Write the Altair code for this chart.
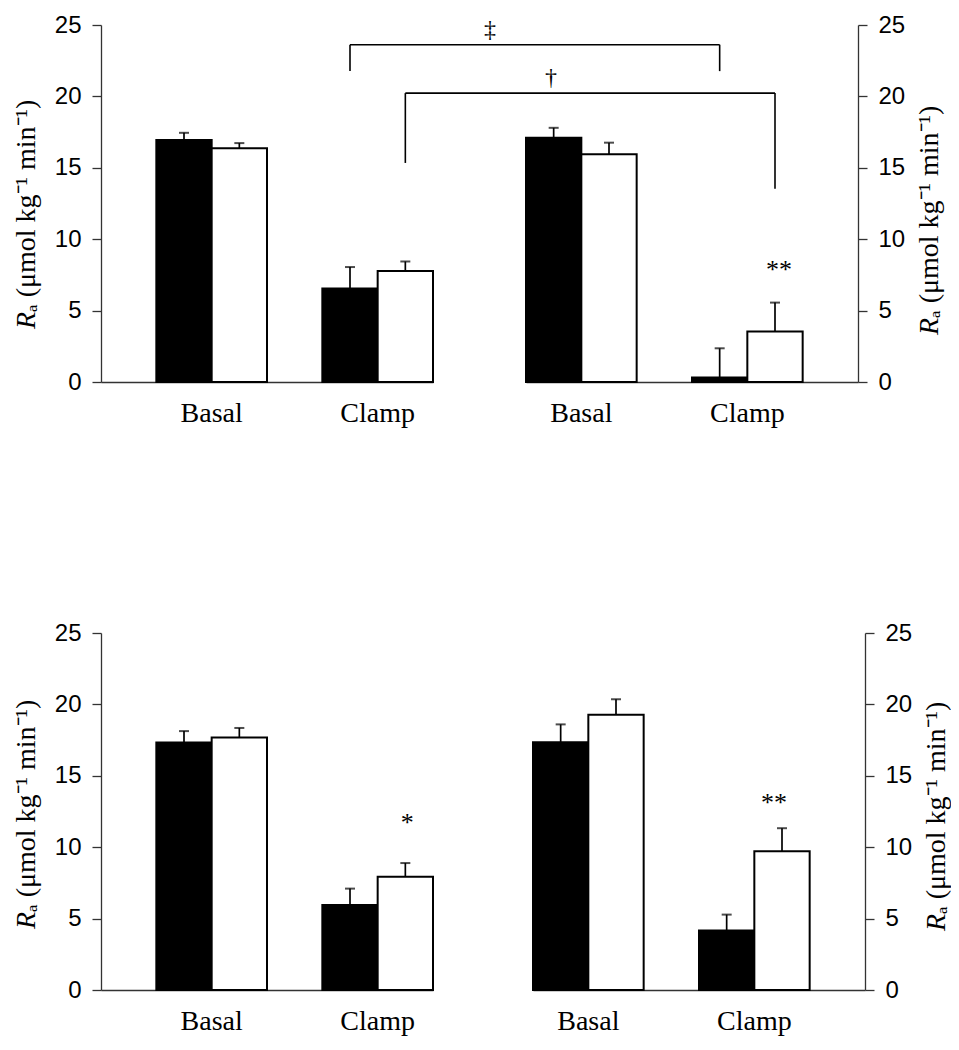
import altair as alt
import pandas as pd

# ---------------- data ----------------
groups = ["Basal", "Clamp"]
series = ["S1", "S2"]          # S1 = filled bar, S2 = open bar

# values in order: Basal S1, Basal S2, Clamp S1, Clamp S2
tl_mean = [16.94, 16.37, 6.54, 7.78]
tl_err = [0.51, 0.36, 1.51, 0.66]
tr_mean = [17.10, 15.95, 0.32, 3.54]
tr_err = [0.70, 0.81, 2.04, 2.02]
bl_mean = [17.33, 17.69, 5.96, 7.93]
bl_err = [0.80, 0.66, 1.14, 0.96]
br_mean = [17.35, 19.27, 4.17, 9.71]
br_err = [1.25, 1.09, 1.11, 1.62]

# significance marks above the open Clamp bar: (label, y value)
tr_star = ("**", 7.85)
bl_star = ("*", 11.7)
br_star = ("**", 13.1)

# brackets joining the two upper panels
bracket_labels = ["\u2021", "\u2020"]
bracket_series = ["S1", "S2"]
bracket_top = [23.62, 20.23]
bracket_left_end = [21.77, 15.34]
bracket_right_end = [21.77, 13.53]

y_ticks = [0, 5, 10, 15, 20, 25]
y_title_rest = "\u2090 (\u03bcmol kg\u207b\u00b9 min\u207b\u00b9)"

# ---------------- layout constants ----------------
W = 332
H = 357
GAP_TOP = 93
GAP_BOTTOM = 100
ROW_GAP = 194
AX = "#333333"
SERIF = "Liberation Serif"
SANS = "Liberation Sans"


def band_pos(s):
    return 0.25 if s == "S1" else 0.75


def panel(mean, err, side, title_y, extra=None):
    df = pd.DataFrame({
        "group": [g for g in groups for _ in series],
        "series": [s for _ in groups for s in series],
        "mean": mean,
        "err": err,
    })
    df["upper"] = df["mean"] + df["err"]

    xscale = alt.Scale(domain=groups, paddingInner=1 / 3, paddingOuter=1 / 6,
                       align=1 if side == "left" else 0)
    xaxis = alt.Axis(title=None, labelAngle=0, ticks=False, tickSize=0,
                     labelFont=SERIF, labelFontSize=28, labelColor="black",
                     labelPadding=17, domainColor=AX, domainWidth=1.3, grid=False)
    x = alt.X("group:N", sort=groups, scale=xscale, axis=xaxis)
    xo = alt.XOffset("series:N", sort=series,
                     scale=alt.Scale(domain=series, paddingInner=0, paddingOuter=0))
    yscale = alt.Scale(domain=[0, 25], nice=False, zero=True)
    yaxis = alt.Axis(orient=side, values=y_ticks, title=None, grid=False,
                     labelFont=SANS, labelFontSize=24, labelColor="black",
                     labelPadding=11, tickSize=9, tickColor=AX, tickWidth=1.3,
                     domainColor=AX, domainWidth=1.3)

    base = alt.Chart(df)
    errs = base.mark_rule(color="black", strokeWidth=1.7).encode(
        x=x, xOffset=xo, y=alt.Y("mean:Q", scale=yscale, axis=yaxis), y2="upper:Q")
    caps = base.mark_tick(color="black", thickness=2, size=10).encode(
        x=x, xOffset=xo, y=alt.Y("upper:Q", scale=yscale, axis=yaxis))
    bars = base.mark_bar(stroke="black", strokeWidth=2).encode(
        x=x, xOffset=xo,
        y=alt.Y("mean:Q", scale=yscale, axis=yaxis),
        fill=alt.Fill("series:N", scale=alt.Scale(domain=series, range=["black", "white"]),
                      legend=None),
    )

    tx = -66 if side == "left" else W + 80
    one = pd.DataFrame({"k": [0]})
    t_r = alt.Chart(one).mark_text(text="R", font=SERIF, fontStyle="italic", fontSize=28,
                                   angle=270, align="right", baseline="alphabetic",
                                   color="black").encode(x=alt.value(tx), y=alt.value(title_y))
    t_rest = alt.Chart(one).mark_text(text=y_title_rest, font=SERIF, fontSize=28,
                                      angle=270, align="left", baseline="alphabetic",
                                      color="black").encode(x=alt.value(tx), y=alt.value(title_y))

    layers = [errs, caps, bars, t_r, t_rest]
    if extra:
        layers += extra(xscale, xaxis, yscale, yaxis)
    return alt.layer(*layers).properties(width=W, height=H)


def star_layer(star, dx=0):
    def f(xscale, xaxis, yscale, yaxis):
        d = pd.DataFrame({"group": ["Clamp"], "label": [star[0]], "y": [star[1]]})
        return [alt.Chart(d).mark_text(font=SERIF, fontSize=26, baseline="middle",
                                       dx=dx, color="black").encode(
            x=alt.X("group:N", bandPosition=0.75, scale=xscale, axis=xaxis, sort=groups),
            y=alt.Y("y:Q", scale=yscale, axis=yaxis),
            text="label:N")]
    return f


def bracket_layers(side, star=None, star_dx=0):
    def f(xscale, xaxis, yscale, yaxis):
        out = []
        for i in range(len(bracket_labels)):
            d = pd.DataFrame({"group": ["Clamp"], "top": [bracket_top[i]],
                              "end": [bracket_left_end[i] if side == "left" else bracket_right_end[i]]})
            bx = alt.X("group:N", bandPosition=band_pos(bracket_series[i]),
                       scale=xscale, axis=xaxis, sort=groups)
            c = alt.Chart(d)
            out.append(c.mark_rule(color="black", strokeWidth=1.6).encode(
                x=bx, y=alt.Y("end:Q", scale=yscale, axis=yaxis), y2="top:Q"))
            if side == "left":
                out.append(c.mark_rule(color="black", strokeWidth=1.6).encode(
                    x=bx, x2=alt.value(W + GAP_TOP), y=alt.Y("top:Q", scale=yscale, axis=yaxis)))
            else:
                out.append(c.mark_rule(color="black", strokeWidth=1.6).encode(
                    x=bx, x2=alt.value(0), y=alt.Y("top:Q", scale=yscale, axis=yaxis)))
        if side == "right":
            lab = pd.DataFrame({"label": bracket_labels, "top": bracket_top})
            label_x = {"\u2021": -36, "\u2020": 25}
            for i, lbl in enumerate(bracket_labels):
                out.append(alt.Chart(lab.iloc[[i]]).mark_text(
                    font=SERIF, fontSize=24, baseline="bottom", dy=-3, color="black").encode(
                    x=alt.value(label_x[lbl]),
                    y=alt.Y("top:Q", scale=yscale, axis=yaxis),
                    text="label:N"))
        if star:
            out += star_layer(star, star_dx)(xscale, xaxis, yscale, yaxis)
        return out
    return f


tl = panel(tl_mean, tl_err, "left", H - 70, extra=bracket_layers("left"))
tr = panel(tr_mean, tr_err, "right", H - 64, extra=bracket_layers("right", tr_star, 4))
bl = panel(bl_mean, bl_err, "left", H - 78, extra=star_layer(bl_star, 2))
br = panel(br_mean, br_err, "right", H - 76, extra=star_layer(br_star, -8))

row1 = alt.hconcat(tl, tr, spacing=GAP_TOP, bounds="flush")
row2 = alt.hconcat(bl, br, spacing=GAP_BOTTOM, bounds="flush")

chart = alt.vconcat(row1, row2, spacing=ROW_GAP).properties(
    background="white",
    padding={"left": 5, "top": 5, "right": 0, "bottom": 5},
).configure_view(strokeWidth=0, stroke="transparent")

chart.save("out.html", embed_options={"renderer": "svg", "actions": False})
